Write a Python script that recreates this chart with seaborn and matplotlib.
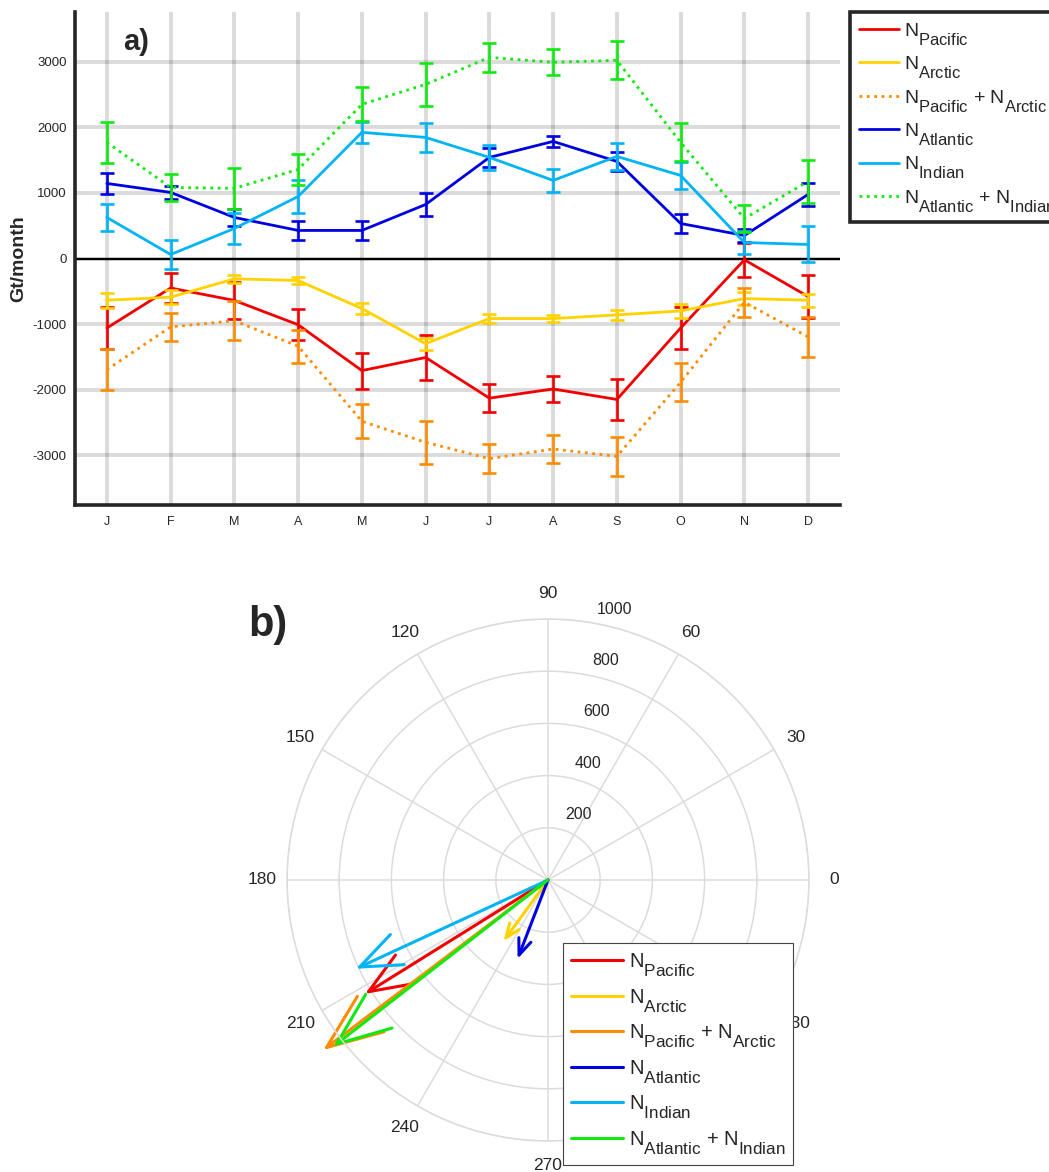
import numpy as np
import matplotlib
matplotlib.use("Agg")
import matplotlib.pyplot as plt
from matplotlib import _mathtext
import seaborn as sns

# ---- data ----
months = ["J", "F", "M", "A", "M", "J", "J", "A", "S", "O", "N", "D"]
month_idx = np.arange(1, 13)

pacific = [-1060, -450, -640, -1010, -1710, -1510, -2130, -1990, -2150, -1060, -20, -580]
pacific_err = [325, 230, 280, 235, 275, 340, 210, 200, 310, 320, 260, 330]
arctic = [-636, -590, -310, -336, -763, -1300, -916, -916, -860, -800, -611, -636]
arctic_err = [115, 110, 60, 60, 80, 90, 75, 60, 75, 100, 100, 100]
pac_arc = [-1695, -1043, -950, -1338, -2483, -2804, -3053, -2906, -3018, -1888, -667, -1196]
pac_arc_err = [310, 215, 300, 250, 260, 330, 225, 215, 295, 290, 220, 310]
atlantic = [1145, 1008, 626, 428, 428, 824, 1542, 1786, 1481, 534, 351, 977]
atlantic_err = [160, 100, 130, 140, 140, 180, 150, 85, 140, 150, 100, 170]
indian = [626, 61, 458, 946, 1924, 1847, 1542, 1191, 1557, 1267, 244, 214]
indian_err = [210, 220, 240, 250, 160, 220, 190, 170, 200, 200, 170, 275]
atl_ind = [1771, 1084, 1070, 1359, 2351, 2656, 3068, 2992, 3023, 1771, 610, 1176]
atl_ind_err = [310, 200, 310, 240, 260, 330, 220, 200, 290, 290, 200, 330]

y_ticks = [-3000, -2000, -1000, 0, 1000, 2000, 3000]

labels = ["N$_{Pacific}$", "N$_{Arctic}$", "N$_{Pacific}$ + N$_{Arctic}$",
          "N$_{Atlantic}$", "N$_{Indian}$", "N$_{Atlantic}$ + N$_{Indian}$"]
colors = ["#F20000", "#FFD200", "#FF8C00", "#0000E0", "#00B4F5", "#10EA10"]
styles = ["-", "-", ":", "-", "-", ":"]

# compass vectors (degrees, Gt/month)
vec_angle = [211.9, 234.0, 217.1, 248.9, 204.8, 217.8]
vec_mag = [810, 274, 1064, 308, 795, 1025]
r_ticks = [200, 400, 600, 800, 1000]
theta_ticks = list(range(0, 360, 30))

sns.set_theme(style="white")
plt.rcParams["font.family"] = ["Liberation Sans", "DejaVu Sans"]
plt.rcParams["mathtext.default"] = "regular"
plt.rcParams["axes.unicode_minus"] = False
# bigger, lower subscripts like the original (TeX-style labels)
_mathtext.SHRINK_FACTOR = 0.85
_mathtext.FontConstantsBase.sub1 = 0.9

fig = plt.figure(figsize=(10.49, 11.72), dpi=100)

# ---- a) monthly series ----
ax = fig.add_axes([75 / 1049, 1 - 505 / 1172, 765 / 1049, 493 / 1172])
series = [(pacific, pacific_err), (arctic, arctic_err), (pac_arc, pac_arc_err),
          (atlantic, atlantic_err), (indian, indian_err), (atl_ind, atl_ind_err)]
handles = []
for (vals, errs), c, ls, lab in zip(series, colors, styles, labels):
    sns.lineplot(x=month_idx, y=vals, color=c, linestyle=ls, lw=2.0, ax=ax, legend=False)
    handles.append(ax.lines[-1])
    ax.errorbar(month_idx, vals, yerr=errs, fmt="none", ecolor=c,
                elinewidth=1.9, capsize=5, capthick=1.9)

ax.axhline(0, color="black", lw=1.6, zorder=1)
ax.set_xlim(0.5, 12.5)
ax.set_ylim(-3760, 3760)
ax.set_xticks(month_idx)
ax.set_xticklabels(months, fontsize=9)
ax.set_yticks(y_ticks)
ax.set_yticklabels([str(v) for v in y_ticks], fontsize=9.5)
ax.grid(True, color="black", alpha=0.14, lw=2.8)
ax.set_axisbelow(True)
for side in ["top", "right"]:
    ax.spines[side].set_visible(False)
for side in ["left", "bottom"]:
    ax.spines[side].set_linewidth(2.6)
    ax.spines[side].set_color("#262626")
ax.tick_params(direction="in", length=6, width=2.4, color="#262626", pad=6)
ax.tick_params(axis="x", pad=8)
ax.set_ylabel("Gt/month", fontsize=14, fontweight="bold", labelpad=4)
ax.set_xlabel("")

leg = ax.legend(handles, labels, loc="upper left", bbox_to_anchor=(1.013, 1.0),
                borderaxespad=0, fontsize=14, handlelength=2.06, handletextpad=0.25,
                labelspacing=0.38, fancybox=False, edgecolor="#262626",
                framealpha=1, borderpad=0.45)
leg.get_frame().set_linewidth(2.6)

fig.text(123 / 1049, 1 - 42 / 1172, "a)", fontsize=21, fontweight="bold",
         ha="left", va="center")

# ---- b) compass ----
pax = fig.add_axes([287 / 1049, 1 - 1141 / 1172, 522 / 1049, 522 / 1172], projection="polar")
pax.set_ylim(0, 1000)
pax.set_yticks(r_ticks)
pax.set_yticklabels([])
pax.set_xticks(np.deg2rad(theta_ticks))
pax.set_xticklabels([str(t) for t in theta_ticks], fontsize=12.5)
pax.tick_params(axis="x", pad=11, length=0)
pax.grid(True, color="#dcdcdc", lw=1.1)
pax.spines["polar"].set_color("#dcdcdc")
pax.spines["polar"].set_linewidth(1.1)
for r in r_ticks:
    pax.annotate(str(r), xy=(np.deg2rad(80), r), xytext=(15.5, 10),
                 textcoords="offset points", ha="center", va="center",
                 fontsize=11.5, annotation_clip=False)

head_r = np.hypot(0.8, 0.08)
head_dt = np.arctan2(0.08, 0.8)
phandles = []
for mag, ang, c in zip(vec_mag, vec_angle, colors):
    th = np.deg2rad(ang)
    ln, = pax.plot([th, th], [0, mag], color=c, lw=2.2, clip_on=False)
    pax.plot([th + head_dt, th, th - head_dt], [mag * head_r, mag, mag * head_r],
             color=c, lw=2.2, clip_on=False)
    phandles.append(ln)

pleg = pax.legend(phandles, labels, loc="upper left", bbox_to_anchor=(0.529, 0.379),
                  borderaxespad=0, fontsize=14.5, fancybox=False, edgecolor="#444444",
                  framealpha=1, handlelength=2.55, handletextpad=0.3,
                  labelspacing=0.38, borderpad=0.4)
pleg.get_frame().set_linewidth(0.8)

fig.text(248 / 1049, 1 - 625 / 1172, "b)", fontsize=30, fontweight="bold",
         ha="left", va="center")

fig.savefig("out.png", dpi=100)
